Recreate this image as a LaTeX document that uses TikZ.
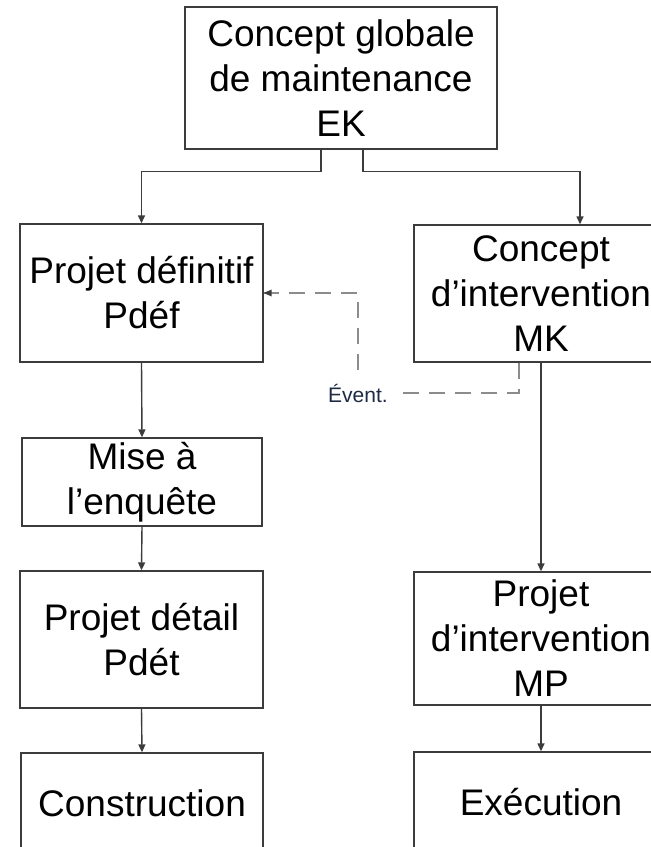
\documentclass[tikz,border=0pt]{standalone}
\usepackage{fontspec}
\setmainfont{Liberation Sans}
\usetikzlibrary{arrows.meta,calc}
\definecolor{linegray}{HTML}{3C3C3C}
\definecolor{dashgray}{HTML}{8C8C8C}
\definecolor{notecol}{HTML}{1E2A44}
\begin{document}
\begin{tikzpicture}[x=1pt,y=-1pt,
  box/.style={draw=linegray,line width=1.4pt,inner sep=0pt,align=center,
    font=\fontsize{37}{45}\selectfont,text=black},
  conn/.style={draw=linegray,line width=1.4pt,-{Triangle[length=8pt,width=7pt]}},
  optional/.style={draw=dashgray,line width=1.4pt,dash pattern=on 16pt off 10pt},
  note/.style={font=\fontsize{21}{24}\selectfont,text=notecol,inner xsep=7pt,inner ysep=14pt}]
\clip (0,0) rectangle (651,847);
\fill[white] (0,0) rectangle (651,847);

% top box
\node[box,minimum width=312pt,minimum height=142pt] (ek) at (341,78)
  {Concept globale\\de maintenance\\EK};

% left column
\node[box,minimum width=243pt,minimum height=138pt] (pdef) at (141.5,293)
  {Projet définitif\\Pdéf};
\node[box,minimum width=240pt,minimum height=88pt] (mise) at (142,482)
  {Mise à\\l’enquête};
\node[box,minimum width=243pt,minimum height=137pt] (pdet) at (141.5,639.5)
  {Projet détail\\Pdét};
\node[box,minimum width=242pt,minimum height=100pt] (constr) at (142,803)
  {Construction};

% right column
\node[box,minimum width=254pt,minimum height=137pt] (mk) at (541,293.5)
  {Concept\\d’intervention\\MK};
\node[box,minimum width=254pt,minimum height=133pt] (mp) at (541,638.5)
  {Projet\\d’intervention\\MP};
\node[box,minimum width=254pt,minimum height=100pt] (exe) at (541,802)
  {Exécution};

% optional feedback label
\node[note] (evt) at (358,393) {Évent.};

% connectors from the top box
\draw[conn] ($(ek.south)+(-20,0)$) -- ++(0,22) -| (pdef.north);
\draw[conn] ($(ek.south)+(22,0)$) -- ++(0,22) -| ($(mk.north)+(39,0)$);

% left chain
\draw[conn] (pdef.south) -- (mise.north);
\draw[conn] (mise.south) -- (pdet.north);
\draw[conn] (pdet.south) -- (constr.north);

% right chain
\draw[conn] (mk.south) -- (mp.north);
\draw[conn] (mp.south) -- (exe.north);

% dashed feedback from MK to Pdef
\draw[optional] ($(mk.south)+(-22,0)$) |- (evt.east);
\draw[optional] (evt.north) |- (pdef.east);
\draw[draw=none,fill=linegray] (pdef.east) -- ++(8,-3.5) -- ++(0,7) -- cycle;
\end{tikzpicture}
\end{document}
